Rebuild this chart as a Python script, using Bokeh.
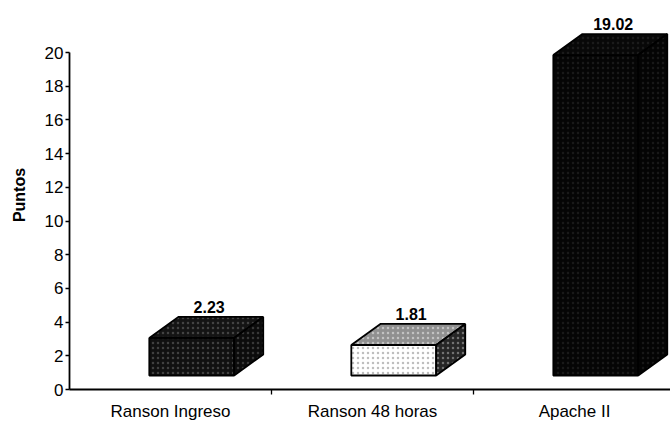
from bokeh.plotting import figure
from bokeh.models import Range1d, FixedTicker, ColumnDataSource
from bokeh.core.properties import value
from bokeh.embed import file_html
from bokeh.resources import INLINE

categories = ["Ranson Ingreso", "Ranson 48 horas", "Apache II"]
values = [2.23, 1.81, 19.02]
y_ticks = [0, 2, 4, 6, 8, 10, 12, 14, 16, 18, 20]

front_colors = ["#101010", "#ffffff", "#050505"]
top_colors = ["#141414", "#909090", "#080808"]
side_colors = ["#0c0c0c", "#262626", "#040404"]
front_hatch = ["white", "#444444", "white"]
top_hatch = ["white", "white", "white"]
side_hatch = ["white", "white", "white"]
hatch_alpha_front = [0.2, 0.35, 0.08]
hatch_alpha_top = [0.2, 0.45, 0.08]
hatch_alpha_side = [0.18, 0.35, 0.08]

FONT = "Liberation Sans"

# 3D bar geometry (in data units)
off = 0.105     # front face center offset from category center
w = 0.42        # front face width
dx = 0.144      # depth x
dy = 1.25       # depth y
base = 0.83     # floor lift

p = figure(width=670, height=423, output_backend="svg", toolbar_location=None,
           x_range=Range1d(0, 2.975), y_range=Range1d(0, 23.09),
           min_border_left=69, min_border_right=0, min_border_top=0,
           min_border_bottom=34)
p.outline_line_color = None
p.xgrid.visible = False
p.ygrid.visible = False
p.background_fill_color = "white"

fx, fy, tx, ty, sx, sy = [], [], [], [], [], []
lx, ly = [], []
for i, v in enumerate(values):
    c = i + 0.5 + off
    x0, x1 = c - w / 2, c + w / 2
    y0, y1 = base, base + v
    fx.append([x0, x1, x1, x0]); fy.append([y0, y0, y1, y1])
    tx.append([x0, x1, x1 + dx, x0 + dx]); ty.append([y1, y1, y1 + dy, y1 + dy])
    sx.append([x1, x1 + dx, x1 + dx, x1]); sy.append([y0, y0 + dy, y1 + dy, y1])
    lx.append(c + dx * 0.6)
    ly.append(y1 + dy + 0.25)

for xs, ys, cols, hc, ha in [(fx, fy, front_colors, front_hatch, hatch_alpha_front),
                             (tx, ty, top_colors, top_hatch, hatch_alpha_top),
                             (sx, sy, side_colors, side_hatch, hatch_alpha_side)]:
    src = ColumnDataSource(dict(xs=xs, ys=ys, fc=cols, hc=hc, ha=ha))
    p.patches("xs", "ys", source=src, fill_color="fc", line_color="black",
              line_width=1.8, hatch_pattern="dot", hatch_color="hc",
              hatch_alpha="ha", hatch_scale=5, hatch_weight=0.6)

lsrc = ColumnDataSource(dict(x=lx, y=ly, t=[f"{v:.2f}" for v in values]))
p.text("x", "y", text="t", source=lsrc, text_font=value(FONT),
       text_font_style="bold", text_font_size="16px", text_align="center",
       text_baseline="bottom", text_color="black")

# y axis
ya = p.yaxis[0]
ya.ticker = FixedTicker(ticks=y_ticks)
ya.bounds = (0, 20)
ya.axis_label = "Puntos"
ya.axis_label_text_font = FONT
ya.axis_label_text_font_style = "bold"
ya.axis_label_text_font_size = "16px"
ya.axis_label_text_color = "black"
ya.axis_label_standoff = 14
ya.major_label_text_font = FONT
ya.major_label_text_font_size = "17px"
ya.major_label_text_color = "black"
ya.major_label_standoff = 2
ya.major_tick_out = 4
ya.major_tick_in = 0
ya.minor_tick_out = 0
ya.minor_tick_in = 0
ya.axis_line_width = 1.8
ya.major_tick_line_width = 1.3

# x axis
xa = p.xaxis[0]
xa.ticker = FixedTicker(ticks=[0.5, 1.5, 2.5], minor_ticks=[1, 2])
xa.major_label_overrides = {0.5: categories[0], 1.5: categories[1], 2.5: categories[2]}
xa.major_label_text_font = FONT
xa.major_label_text_font_size = "17px"
xa.major_label_text_color = "black"
xa.major_tick_line_color = None
xa.major_tick_out = 0
xa.major_tick_in = 0
xa.major_label_standoff = 7
xa.minor_tick_out = 5
xa.minor_tick_in = 0
xa.minor_tick_line_width = 1.3
xa.axis_line_width = 1.8

open("out.html", "w").write(file_html(p, INLINE))
